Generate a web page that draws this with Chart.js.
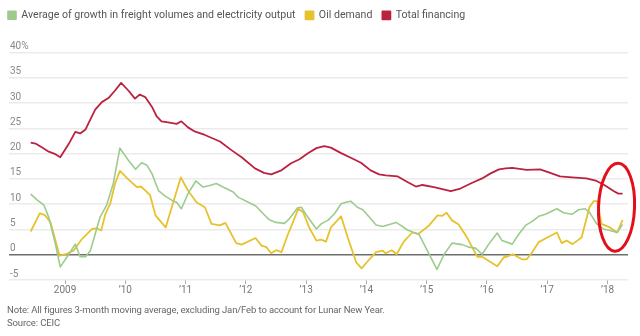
<!DOCTYPE html>
<html>
<head>
<meta charset="utf-8">
<script src="https://cdn.jsdelivr.net/npm/chart.js@4"></script>
<style>
  html, body { margin: 0; padding: 0; background: #fff; }
  #wrap { position: relative; width: 640px; height: 336px; overflow: hidden; }
  #chart { position: absolute; left: 0; top: 0; }
  .note { position: absolute; left: 7px; font: 9.5px Roboto, sans-serif; letter-spacing: -0.12px; color: #666; white-space: nowrap; }
</style>
</head>
<body>
<div id="wrap">
  <canvas id="chart" width="640" height="336"></canvas>
  <div class="note" style="top:304px">Note: All figures 3-month moving average, excluding Jan/Feb to account for Lunar New Year.</div>
  <div class="note" style="top:317px">Source: CEIC</div>
</div>
<script>
// year ticks along the bottom
const years = [2009, 2010, 2011, 2012, 2013, 2014, 2015, 2016, 2017, 2018];
const yearLabels = ['2009', '’10', '’11', '’12', '’13', '’14', '’15', '’16', '’17', '’18'];

// average of growth in freight volumes and electricity output, % y/y
const freightDates = [
  2008.43, 2008.54, 2008.65, 2008.73, 2008.84, 2008.92, 2009.03, 2009.17, 2009.25, 2009.34,
  2009.42, 2009.58, 2009.69, 2009.80, 2009.91, 2010.05, 2010.17, 2010.27, 2010.36, 2010.44,
  2010.55, 2010.66, 2010.77, 2010.85, 2010.93, 2011.04, 2011.17, 2011.29, 2011.40, 2011.51,
  2011.62, 2011.79, 2011.87, 2012.04, 2012.17, 2012.28, 2012.39, 2012.50, 2012.64, 2012.72,
  2012.86, 2012.92, 2013.03, 2013.17, 2013.25, 2013.36, 2013.47, 2013.58, 2013.66, 2013.74,
  2013.85, 2013.94, 2014.05, 2014.16, 2014.27, 2014.49, 2014.57, 2014.68, 2014.79, 2014.87,
  2015.04, 2015.17, 2015.29, 2015.42, 2015.59, 2015.70, 2015.81, 2015.92, 2016.03, 2016.17,
  2016.25, 2016.42, 2016.53, 2016.64, 2016.75, 2016.86, 2016.97, 2017.16, 2017.27, 2017.41,
  2017.52, 2017.63, 2017.70, 2017.82, 2017.93, 2018.04, 2018.16, 2018.25
];
const freightValues = [
  12.0, 10.8, 9.8, 7.4, 2.1, -2.4, -0.5, 2.1, -0.4, -0.4,
  0.8, 7.4, 9.8, 14.1, 21.1, 18.7, 16.9, 18.2, 17.7, 16.1,
  12.7, 11.6, 10.8, 10.4, 9.1, 12.1, 14.6, 13.4, 13.7, 14.1,
  13.4, 12.4, 11.4, 10.4, 9.6, 8.2, 6.9, 6.4, 6.2, 7.1,
  9.3, 9.4, 7.4, 5.1, 6.1, 6.8, 8.1, 10.1, 10.4, 10.6,
  9.4, 8.9, 7.4, 5.9, 5.6, 6.4, 5.8, 4.9, 4.4, 4.1,
  0.1, -2.9, 0.1, 2.3, 2.0, 1.5, 1.3, 0.1, 2.1, 4.3,
  2.8, 2.1, 4.1, 5.8, 6.6, 7.6, 8.0, 9.1, 8.3, 8.0,
  8.9, 9.1, 8.4, 6.1, 5.1, 4.8, 4.4, 6.0
];

// oil demand, % y/y
const oilDates = [
  2008.43, 2008.58, 2008.66, 2008.76, 2008.84, 2008.91, 2009.01, 2009.14, 2009.28, 2009.45,
  2009.53, 2009.60, 2009.67, 2009.75, 2009.83, 2009.91, 2010.05, 2010.19, 2010.26, 2010.36,
  2010.41, 2010.50, 2010.67, 2010.77, 2010.92, 2011.04, 2011.18, 2011.32, 2011.43, 2011.57,
  2011.66, 2011.84, 2011.93, 2012.16, 2012.26, 2012.34, 2012.42, 2012.50, 2012.59, 2012.70,
  2012.78, 2012.87, 2012.95, 2013.05, 2013.17, 2013.25, 2013.33, 2013.41, 2013.58, 2013.69,
  2013.83, 2013.92, 2014.05, 2014.16, 2014.27, 2014.32, 2014.42, 2014.50, 2014.62, 2014.76,
  2014.86, 2015.04, 2015.18, 2015.26, 2015.33, 2015.42, 2015.53, 2015.67, 2015.84, 2015.92,
  2016.17, 2016.28, 2016.33, 2016.43, 2016.58, 2016.66, 2016.75, 2016.86, 2017.00, 2017.16,
  2017.24, 2017.32, 2017.42, 2017.57, 2017.70, 2017.77, 2017.83, 2017.90, 2018.04, 2018.16,
  2018.25
];
const oilValues = [
  4.6, 8.2, 7.9, 6.4, 2.8, -0.2, 0.1, 0.8, 3.1, 5.1,
  5.2, 4.8, 8.1, 10.1, 14.1, 16.6, 14.9, 13.4, 13.5, 12.4,
  11.8, 7.8, 5.4, 9.4, 15.3, 12.7, 10.4, 9.4, 6.1, 5.8,
  6.3, 2.3, 2.0, 3.3, 1.8, 1.5, 0.3, 0.9, 0.5, 4.1,
  6.4, 9.1, 8.4, 5.4, 2.8, 3.0, 2.6, 5.4, 7.6, 3.4,
  -1.5, -2.7, -0.9, 0.5, 0.8, 0.3, 0.9, 0.1, 2.6, 4.4,
  4.1, 5.8, 7.8, 7.7, 8.3, 6.8, 6.0, 3.4, -0.4, -0.4,
  -2.3, -0.5, -0.4, 0.1, -0.9, -0.9, 0.5, 2.5, 3.4, 4.4,
  2.3, 2.8, 2.1, 3.4, 9.4, 10.6, 10.6, 6.1, 5.4, 4.4,
  6.9
];

// total financing, % y/y
const financingDates = [
  2008.43, 2008.51, 2008.62, 2008.73, 2008.84, 2008.92, 2009.06, 2009.17, 2009.25, 2009.34,
  2009.50, 2009.61, 2009.72, 2009.83, 2009.93, 2010.05, 2010.16, 2010.24, 2010.33, 2010.44,
  2010.52, 2010.60, 2010.71, 2010.85, 2010.93, 2011.04, 2011.15, 2011.32, 2011.57, 2011.76,
  2011.93, 2012.15, 2012.30, 2012.42, 2012.59, 2012.75, 2012.89, 2013.03, 2013.17, 2013.30,
  2013.41, 2013.58, 2013.74, 2013.91, 2014.07, 2014.21, 2014.32, 2014.52, 2014.68, 2014.82,
  2014.93, 2015.12, 2015.40, 2015.56, 2015.73, 2015.92, 2016.06, 2016.20, 2016.31, 2016.42,
  2016.66, 2016.88, 2017.05, 2017.21, 2017.41, 2017.65, 2017.82, 2017.96, 2018.10, 2018.18,
  2018.25
];
const financingValues = [
  22.2, 22.0, 21.2, 20.4, 19.9, 19.3, 21.9, 24.3, 24.0, 24.8,
  28.7, 30.2, 31.0, 32.5, 34.0, 32.5, 30.9, 31.7, 31.2, 29.3,
  27.4, 26.4, 26.2, 25.9, 26.4, 25.2, 24.4, 23.7, 22.4, 20.7,
  19.3, 17.1, 16.2, 15.9, 16.7, 18.1, 18.9, 20.1, 21.1, 21.5,
  21.2, 20.1, 19.2, 18.2, 16.7, 15.9, 15.7, 15.5, 14.4, 13.5,
  13.8, 13.4, 12.6, 13.1, 14.1, 15.1, 16.1, 16.9, 17.1, 17.2,
  16.8, 16.9, 16.2, 15.5, 15.3, 15.1, 14.6, 13.7, 12.6, 12.1,
  12.1
];

const GREEN = '#9dcb8e';
const YELLOW = '#e7c22d';
const RED = '#bb2240';

function points(dates, values) {
  return dates.map((x, i) => ({ x: x, y: values[i] }));
}

// extra room under the legend, and pull it flush with the left edge
const legendSpace = {
  id: 'legendSpace',
  beforeInit(chart) {
    const fit = chart.legend.fit;
    chart.legend.fit = function () {
      fit.call(this);
      this.height += 22;
    };
  },
  afterLayout(chart) {
    chart.legend.left -= 9;
    chart.legend.right -= 9;
  }
};

// hand-drawn style ring around the latest readings
const ringPlugin = {
  id: 'ring',
  afterDatasetsDraw(chart) {
    const { ctx, scales } = chart;
    const cx = scales.x.getPixelForValue(2018.15);
    const cy = scales.y.getPixelForValue(9.4);
    ctx.save();
    ctx.strokeStyle = '#e3101c';
    ctx.lineWidth = 3;
    ctx.beginPath();
    ctx.ellipse(cx, cy, 18, 44, 0.04, 0, Math.PI * 2);
    ctx.stroke();
    ctx.restore();
  }
};

new Chart(document.getElementById('chart'), {
  type: 'line',
  data: {
    datasets: [
      {
        label: 'Average of growth in freight volumes and electricity output',
        data: points(freightDates, freightValues),
        borderColor: GREEN,
        backgroundColor: GREEN,
        borderWidth: 1.6
      },
      {
        label: 'Oil demand',
        data: points(oilDates, oilValues),
        borderColor: YELLOW,
        backgroundColor: YELLOW,
        borderWidth: 1.8
      },
      {
        label: 'Total financing',
        data: points(financingDates, financingValues),
        borderColor: RED,
        backgroundColor: RED,
        borderWidth: 1.8
      }
    ]
  },
  options: {
    responsive: false,
    animation: false,
    layout: { padding: { left: 7, right: 12, top: 0, bottom: 40 } },
    elements: {
      point: { radius: 0 },
      line: { tension: 0, borderJoinStyle: 'round' }
    },
    plugins: {
      legend: {
        position: 'top',
        align: 'start',
        labels: {
          boxWidth: 8,
          boxHeight: 8,
          padding: 10,
          color: '#555',
          font: { family: 'Roboto', size: 10.6 }
        }
      },
      tooltip: { enabled: false }
    },
    scales: {
      x: {
        type: 'linear',
        min: 2008.07,
        max: 2018.34,
        afterBuildTicks(scale) {
          scale.ticks = years.map(v => ({ value: v }));
        },
        ticks: {
          autoSkip: false,
          maxRotation: 0,
          padding: 0,
          color: '#777',
          font: { family: 'Roboto', size: 10 },
          callback: (v) => yearLabels[years.indexOf(v)]
        },
        grid: {
          drawOnChartArea: false,
          drawTicks: true,
          tickLength: 4,
          color: '#aaa'
        },
        border: { display: false }
      },
      y: {
        min: -5,
        max: 40,
        ticks: {
          stepSize: 5,
          mirror: true,
          padding: 1,
          labelOffset: -6,
          color: '#888',
          font: { family: 'Roboto', size: 10 },
          callback: (v) => (v === 40 ? '40%' : v)
        },
        grid: {
          drawTicks: false,
          color: (c) => (c.tick && c.tick.value === 0 ? '#6e6e6e' : '#ebebeb'),
          lineWidth: 1.5
        },
        border: { display: false }
      }
    }
  },
  plugins: [legendSpace, ringPlugin]
});
</script>
</body>
</html>
